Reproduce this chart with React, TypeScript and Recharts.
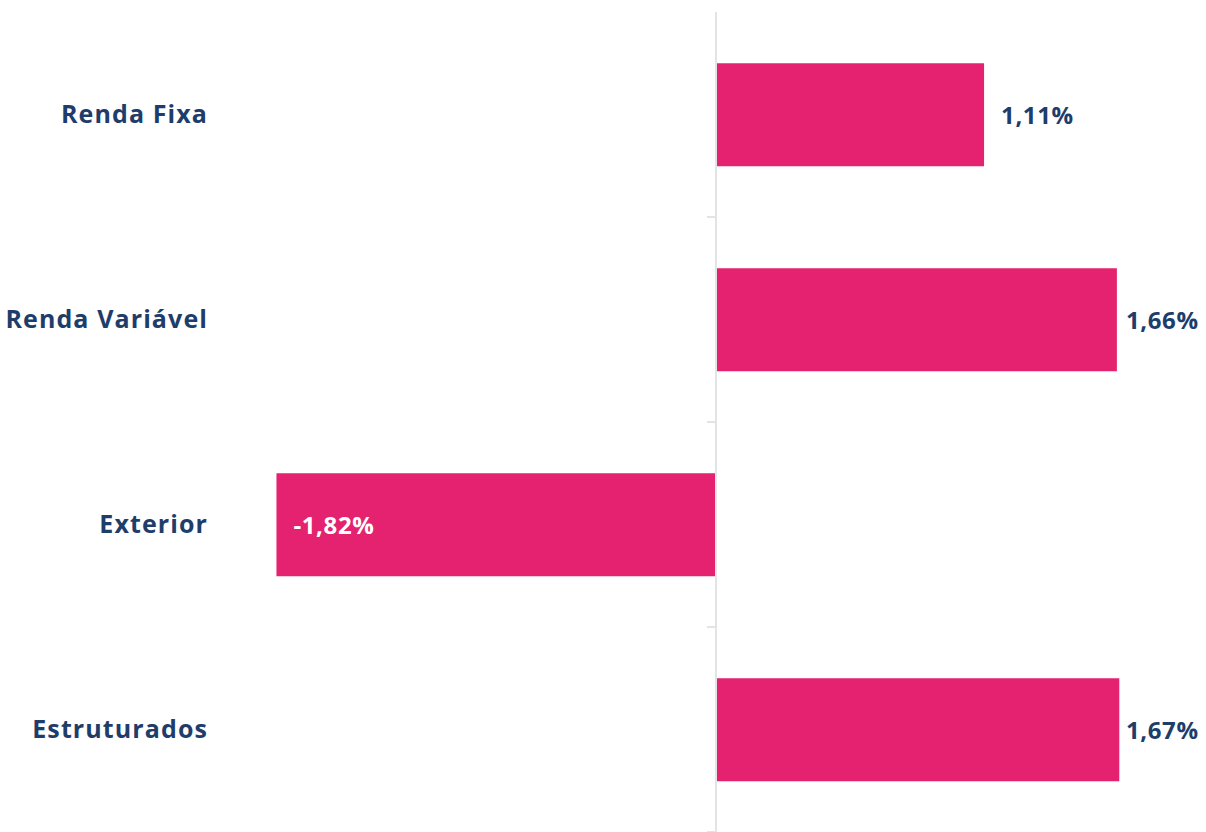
import React from 'react';
import { BarChart, Bar, XAxis, YAxis, ReferenceLine, LabelList } from 'recharts';

const categories = ['Renda Fixa', 'Renda Variável', 'Exterior', 'Estruturados'];
const returns = [1.11, 1.66, -1.82, 1.67];

const data = categories.map((name, i) => ({ name, value: returns[i] }));

const PINK = '#E4226F';
const NAVY = '#1E3D6B';
const FONT = '"Open Sans", Lato, sans-serif';
const W = 1206;
const H = 832;

const fmt = (v: number) => v.toFixed(2).replace('.', ',') + '%';

// zero line with small ticks at each band boundary
const ZeroLine = (props: any) => {
  const { x1, y1, y2 } = props;
  const step = (y2 - y1) / categories.length;
  const ticks = categories.map((_, i) => y1 + step * i);
  return (
    <g>
      <line x1={x1} y1={y1} x2={x1} y2={y2} stroke="#e4e4e4" strokeWidth={2} />
      {ticks.map((t) => (
        <line key={t} x1={x1 - 9} y1={t} x2={x1} y2={t} stroke="#e4e4e4" strokeWidth={2} />
      ))}
    </g>
  );
};

const labelStyle = { fontSize: 24, fontWeight: 700, fontFamily: FONT, letterSpacing: 0.6 };

const ValueLabel = (props: any) => {
  const { x, y, width, height, value } = props;
  const cy = y + height / 2 + 1;
  if (value < 0) {
    const left = x + width; // width is negative
    return (
      <text x={left + 17} y={cy} dy="0.35em" fill="#fff" style={labelStyle}>
        {fmt(value)}
      </text>
    );
  }
  const textW = 75;
  const tx = Math.min(x + width + 17, W - 5 - textW);
  return (
    <text x={tx} y={cy} dy="0.35em" fill={NAVY} style={labelStyle}>
      {fmt(value)}
    </text>
  );
};

export default function App() {
  return (
    <div>
      <style>{'body{margin:0}'}</style>
      <BarChart
        width={W}
        height={H}
        data={data}
        layout="vertical"
        margin={{ top: 12, right: 7, left: 0, bottom: 0 }}
        barCategoryGap="25%"
      >
        <XAxis type="number" domain={[-2, 2]} hide />
        <YAxis
          type="category"
          dataKey="name"
          width={233}
          axisLine={false}
          tickLine={false}
          tickSize={0}
          tickMargin={25}
          tick={{ fill: NAVY, fontSize: 25, fontWeight: 700, fontFamily: FONT, letterSpacing: 1.1 }}
        />
        <ReferenceLine x={0} shape={ZeroLine} />
        <Bar dataKey="value" fill={PINK} isAnimationActive={false}>
          <LabelList dataKey="value" content={ValueLabel} />
        </Bar>
      </BarChart>
    </div>
  );
}
